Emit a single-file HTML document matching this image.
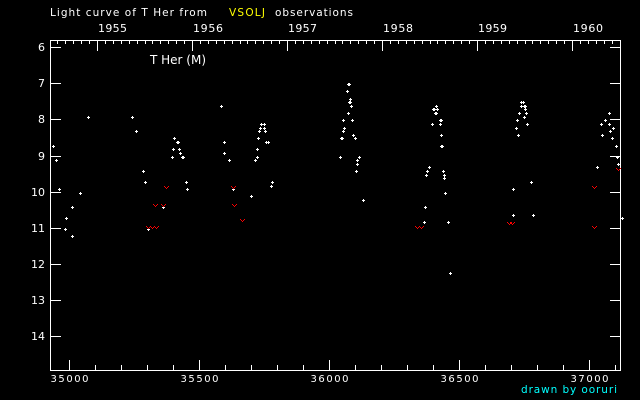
<!DOCTYPE html>
<html><head><meta charset="utf-8"><style>
html,body{margin:0;padding:0;background:#000;width:640px;height:400px;overflow:hidden}
svg{display:block}
text{font-family:"DejaVu Sans","Liberation Sans",sans-serif;fill:#fff}
</style></head><body>
<svg width="640" height="400" viewBox="0 0 640 400" xmlns="http://www.w3.org/2000/svg" shape-rendering="crispEdges">
<defs>
<path id="p" d="M-1 0h3v1h-3zM0 -1h1v3h-1z" fill="#fff"/>
<path id="v" d="M-2 -1h1v1h-1zM2 -1h1v1h-1zM-1 0h1v1h-1zM1 0h1v1h-1zM0 1h1v1h-1z" fill="#ff0000"/>
</defs>
<rect width="640" height="400" fill="#000"/>
<!-- title -->
<text x="50" y="16" font-size="10.5" textLength="157" lengthAdjust="spacing">Light curve of T Her from</text>
<text x="229" y="16" font-size="10.5" textLength="36" lengthAdjust="spacing" style="fill:#ffff00">VSOLJ</text>
<text x="275" y="16" font-size="10.5" textLength="78" lengthAdjust="spacing">observations</text>
<!-- year labels -->
<g font-size="11">
<text x="98" y="32" textLength="29" lengthAdjust="spacing">1955</text>
<text x="193" y="32" textLength="30" lengthAdjust="spacing">1956</text>
<text x="288" y="32" textLength="29" lengthAdjust="spacing">1957</text>
<text x="383" y="32" textLength="30" lengthAdjust="spacing">1958</text>
<text x="478" y="32" textLength="29" lengthAdjust="spacing">1959</text>
<text x="573" y="32" textLength="30" lengthAdjust="spacing">1960</text>
</g>
<!-- axes box -->
<path fill="#fff" d="M50 40h571v1h-571zM50 370h571v1h-571zM50 40h1v331h-1zM620 40h1v331h-1z"/>
<!-- top ticks major -->
<path fill="#fff" d="M97 40h1v11h-1zM192 40h1v11h-1zM287 40h1v11h-1zM382 40h1v11h-1zM477 40h1v11h-1zM572 40h1v11h-1z"/>
<!-- top ticks minor -->
<path fill="#fff" d="M57 40h1v4h-1zM65 40h1v4h-1zM73 40h1v4h-1zM81 40h1v4h-1zM89 40h1v4h-1z
M105 40h1v4h-1zM113 40h1v4h-1zM121 40h1v4h-1zM129 40h1v4h-1zM137 40h1v4h-1zM145 40h1v4h-1zM152 40h1v4h-1zM160 40h1v4h-1zM168 40h1v4h-1zM176 40h1v4h-1zM184 40h1v4h-1z
M200 40h1v4h-1zM208 40h1v4h-1zM216 40h1v4h-1zM224 40h1v4h-1zM232 40h1v4h-1zM240 40h1v4h-1zM247 40h1v4h-1zM255 40h1v4h-1zM263 40h1v4h-1zM271 40h1v4h-1zM279 40h1v4h-1z
M295 40h1v4h-1zM303 40h1v4h-1zM311 40h1v4h-1zM319 40h1v4h-1zM327 40h1v4h-1zM335 40h1v4h-1zM342 40h1v4h-1zM350 40h1v4h-1zM358 40h1v4h-1zM366 40h1v4h-1zM374 40h1v4h-1z
M390 40h1v4h-1zM398 40h1v4h-1zM406 40h1v4h-1zM414 40h1v4h-1zM422 40h1v4h-1zM430 40h1v4h-1zM437 40h1v4h-1zM445 40h1v4h-1zM453 40h1v4h-1zM461 40h1v4h-1zM469 40h1v4h-1z
M485 40h1v4h-1zM493 40h1v4h-1zM501 40h1v4h-1zM509 40h1v4h-1zM517 40h1v4h-1zM525 40h1v4h-1zM532 40h1v4h-1zM540 40h1v4h-1zM548 40h1v4h-1zM556 40h1v4h-1zM564 40h1v4h-1z
M580 40h1v4h-1zM588 40h1v4h-1zM596 40h1v4h-1zM604 40h1v4h-1zM612 40h1v4h-1z"/>
<!-- bottom ticks -->
<path fill="#fff" d="M69 360h1v10h-1zM199 360h1v10h-1zM329 360h1v10h-1zM459 360h1v10h-1zM589 360h1v10h-1z
M95 365h1v5h-1zM121 365h1v5h-1zM147 365h1v5h-1zM173 365h1v5h-1z
M225 365h1v5h-1zM251 365h1v5h-1zM277 365h1v5h-1zM303 365h1v5h-1z
M355 365h1v5h-1zM381 365h1v5h-1zM407 365h1v5h-1zM433 365h1v5h-1z
M485 365h1v5h-1zM511 365h1v5h-1zM537 365h1v5h-1zM563 365h1v5h-1zM615 365h1v5h-1z"/>
<!-- left/right ticks -->
<path fill="#fff" d="M50 47h11v1h-11zM50 83h11v1h-11zM50 119h11v1h-11zM50 156h11v1h-11zM50 192h11v1h-11zM50 228h11v1h-11zM50 264h11v1h-11zM50 300h11v1h-11zM50 336h11v1h-11z
M610 47h11v1h-11zM610 83h11v1h-11zM610 119h11v1h-11zM610 156h11v1h-11zM610 192h11v1h-11zM610 228h11v1h-11zM610 264h11v1h-11zM610 300h11v1h-11zM610 336h11v1h-11z"/>
<!-- y labels -->
<g font-size="11" text-anchor="end">
<text x="45" y="51">6</text>
<text x="45" y="87">7</text>
<text x="45" y="123">8</text>
<text x="45" y="160">9</text>
<text x="45" y="196">10</text>
<text x="45" y="232">11</text>
<text x="45" y="268">12</text>
<text x="45" y="304">13</text>
<text x="45" y="340">14</text>
</g>
<!-- x labels -->
<g font-size="10" text-anchor="middle">
<text x="69.5" y="382" textLength="38" lengthAdjust="spacing">35000</text>
<text x="199.5" y="382" textLength="38" lengthAdjust="spacing">35500</text>
<text x="329.5" y="382" textLength="38" lengthAdjust="spacing">36000</text>
<text x="459.5" y="382" textLength="38" lengthAdjust="spacing">36500</text>
<text x="589.5" y="382" textLength="38" lengthAdjust="spacing">37000</text>
</g>
<text x="150" y="64" font-size="12" textLength="56" lengthAdjust="spacing">T Her (M)</text>
<text x="521" y="393" font-size="10.5" textLength="96" lengthAdjust="spacing" style="fill:#00ffff">drawn by ooruri</text>
<!-- white points -->
<g>
<use href="#p" x="88" y="117"/><use href="#p" x="132" y="117"/><use href="#p" x="136" y="131"/><use href="#p" x="221" y="106"/>
<use href="#p" x="53" y="146"/><use href="#p" x="56" y="160"/><use href="#p" x="59" y="189"/><use href="#p" x="80" y="193"/>
<use href="#p" x="72" y="207"/><use href="#p" x="66" y="218"/><use href="#p" x="65" y="229"/><use href="#p" x="72" y="236"/>
<use href="#p" x="143" y="171"/><use href="#p" x="145" y="182"/><use href="#p" x="163" y="207"/><use href="#p" x="148" y="229"/>
<use href="#p" x="174" y="138"/><use href="#p" x="177" y="142"/><use href="#p" x="178" y="142"/><use href="#p" x="173" y="149"/>
<use href="#p" x="179" y="149"/><use href="#p" x="180" y="153"/><use href="#p" x="172" y="157"/><use href="#p" x="182" y="157"/>
<use href="#p" x="183" y="157"/><use href="#p" x="186" y="182"/><use href="#p" x="187" y="189"/><use href="#p" x="224" y="142"/>
<use href="#p" x="224" y="153"/><use href="#p" x="229" y="160"/><use href="#p" x="261" y="124"/><use href="#p" x="264" y="124"/>
<use href="#p" x="260" y="128"/><use href="#p" x="264" y="128"/><use href="#p" x="259" y="131"/><use href="#p" x="265" y="131"/>
<use href="#p" x="258" y="138"/><use href="#p" x="266" y="142"/><use href="#p" x="268" y="142"/><use href="#p" x="257" y="149"/>
<use href="#p" x="257" y="157"/><use href="#p" x="255" y="160"/><use href="#p" x="272" y="182"/><use href="#p" x="271" y="186"/>
<use href="#p" x="251" y="196"/><use href="#p" x="233" y="189"/>
<use href="#p" x="348" y="84"/><use href="#p" x="349" y="84"/><use href="#p" x="347" y="91"/><use href="#p" x="350" y="99"/>
<use href="#p" x="349" y="102"/><use href="#p" x="350" y="102"/><use href="#p" x="351" y="106"/><use href="#p" x="348" y="113"/>
<use href="#p" x="343" y="120"/><use href="#p" x="352" y="120"/><use href="#p" x="344" y="128"/><use href="#p" x="343" y="131"/>
<use href="#p" x="353" y="135"/><use href="#p" x="355" y="138"/><use href="#p" x="341" y="138"/><use href="#p" x="342" y="138"/>
<use href="#p" x="340" y="157"/><use href="#p" x="359" y="157"/><use href="#p" x="357" y="160"/><use href="#p" x="357" y="164"/>
<use href="#p" x="356" y="171"/><use href="#p" x="363" y="200"/>
<use href="#p" x="436" y="106"/><use href="#p" x="433" y="109"/><use href="#p" x="434" y="109"/><use href="#p" x="437" y="109"/>
<use href="#p" x="435" y="113"/><use href="#p" x="436" y="113"/><use href="#p" x="440" y="120"/><use href="#p" x="441" y="120"/>
<use href="#p" x="432" y="124"/><use href="#p" x="440" y="124"/><use href="#p" x="441" y="135"/><use href="#p" x="441" y="146"/>
<use href="#p" x="442" y="146"/><use href="#p" x="429" y="167"/><use href="#p" x="427" y="171"/><use href="#p" x="426" y="175"/>
<use href="#p" x="443" y="171"/><use href="#p" x="444" y="175"/><use href="#p" x="444" y="178"/><use href="#p" x="445" y="193"/>
<use href="#p" x="425" y="207"/><use href="#p" x="424" y="222"/><use href="#p" x="448" y="222"/><use href="#p" x="450" y="273"/>
<use href="#p" x="521" y="102"/><use href="#p" x="523" y="102"/><use href="#p" x="521" y="106"/><use href="#p" x="524" y="106"/>
<use href="#p" x="525" y="106"/><use href="#p" x="525" y="109"/><use href="#p" x="519" y="113"/><use href="#p" x="526" y="113"/>
<use href="#p" x="524" y="117"/><use href="#p" x="517" y="120"/><use href="#p" x="527" y="124"/><use href="#p" x="516" y="128"/>
<use href="#p" x="518" y="135"/><use href="#p" x="531" y="182"/><use href="#p" x="513" y="189"/><use href="#p" x="513" y="215"/>
<use href="#p" x="533" y="215"/>
<use href="#p" x="609" y="113"/><use href="#p" x="605" y="120"/><use href="#p" x="601" y="124"/><use href="#p" x="609" y="124"/>
<use href="#p" x="613" y="128"/><use href="#p" x="610" y="131"/><use href="#p" x="602" y="135"/><use href="#p" x="612" y="138"/>
<use href="#p" x="616" y="146"/><use href="#p" x="617" y="157"/><use href="#p" x="618" y="164"/><use href="#p" x="597" y="167"/>
<use href="#p" x="622" y="218"/>
</g>
<!-- red upper-limit marks -->
<g>
<use href="#v" x="166" y="187"/><use href="#v" x="155" y="205"/><use href="#v" x="163" y="205"/>
<use href="#v" x="148" y="227"/><use href="#v" x="152" y="227"/><use href="#v" x="156" y="227"/>
<use href="#v" x="233" y="187"/><use href="#v" x="234" y="205"/><use href="#v" x="242" y="220"/>
<use href="#v" x="417" y="227"/><use href="#v" x="421" y="227"/>
<use href="#v" x="509" y="223"/><use href="#v" x="512" y="223"/>
<use href="#v" x="594" y="187"/><use href="#v" x="594" y="227"/><use href="#v" x="618" y="169"/>
</g>
</svg>
</body></html>
